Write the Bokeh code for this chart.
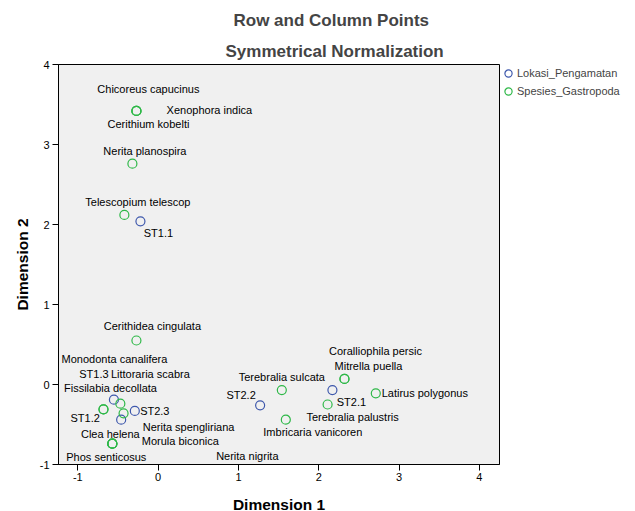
from bokeh.plotting import figure
from bokeh.models import (ColumnDataSource, Range1d, FixedTicker, Title, Legend, LegendItem,
                          CustomJSTickFormatter)
from bokeh.core.properties import value
from bokeh.embed import file_html
from bokeh.resources import INLINE

# ---- data ----
lokasi_names = ["ST1.1", "ST1.2", "ST1.3", "ST2.1", "ST2.2", "ST2.3"]
lokasi_dim1 = [-0.22, -0.46, -0.55, 2.17, 1.27, -0.29]
lokasi_dim2 = [2.04, -0.44, -0.19, -0.07, -0.26, -0.33]

spesies_names = ["Chicoreus capucinus", "Xenophora indica", "Cerithium kobelti",
                 "Nerita planospira", "Telescopium telescop", "Cerithidea cingulata",
                 "Monodonta canalifera", "Littoraria scabra", "Fissilabia decollata",
                 "Nerita spengliriana", "Clea helena", "Morula biconica",
                 "Phos senticosus", "Nerita nigrita", "Terebralia sulcata",
                 "Imbricaria vanicoren", "Coralliophila persic", "Mitrella puella",
                 "Terebralia palustris", "Latirus polygonus"]
spesies_dim1 = [-0.27, -0.27, -0.27, -0.32, -0.42, -0.27, -0.68, -0.47, -0.68, -0.43,
                -0.57, -0.57, -0.57, -0.57, 1.54, 1.59, 2.32, 2.32, 2.11, 2.71]
spesies_dim2 = [3.42, 3.42, 3.42, 2.76, 2.12, 0.55, -0.31, -0.24, -0.31, -0.36,
                -0.74, -0.74, -0.74, -0.74, -0.07, -0.44, 0.07, 0.07, -0.25, -0.11]

x_ticks = [-1, 0, 1, 2, 3, 4]
y_ticks = [-1, 0, 1, 2, 3, 4]

# label placement offsets (screen pixels, style only)
lokasi_dx = [18, -36, -20, 19, -19, 20]
lokasi_dy = [12, -2, -26, 12, -10, 0]
spesies_dx = [12, 73, 12, 12.5, 13.5, 16, 11, 30, 7, 65, -2, 68, -6, 135, 0, 27, 31, 24, 25, 49]
spesies_dy = [-22, -1, 13, -12.5, -12.5, -15, -50, -30, -21, 14, -10, -3, 13, 12, -13, 12, -28, -13, 12, 0]

BLUE = "#3E58AC"
GREEN = "#2EB848"
FONT = "Liberation Sans"

p = figure(frame_width=441, frame_height=400, output_backend="svg", toolbar_location=None,
           x_range=Range1d(-1.24, 4.25), y_range=Range1d(-1.0, 4.0),
           min_border_left=58, min_border_right=136, min_border_top=64,
           min_border_bottom=47)
p.title = None
p.background_fill_color = "#f0f0f0"
p.border_fill_color = "white"
p.outline_line_color = "black"
p.outline_line_width = 1
p.grid.visible = False

fmt = CustomJSTickFormatter(code="return tick.toString();")
for ax in (p.xaxis[0], p.yaxis[0]):
    ax.axis_line_color = "black"
    ax.major_tick_in = 0
    ax.major_tick_out = 6
    ax.major_tick_line_color = "black"
    ax.minor_tick_line_color = None
    ax.major_label_text_font = FONT
    ax.major_label_text_font_size = "11px"
    ax.major_label_text_color = "black"
    ax.axis_label_text_font = FONT
    ax.axis_label_text_font_size = "15.5px"
    ax.axis_label_text_font_style = "bold"
    ax.axis_label_text_color = "black"
    ax.formatter = fmt
p.xaxis.ticker = FixedTicker(ticks=x_ticks)
p.yaxis.ticker = FixedTicker(ticks=y_ticks)
p.xaxis.axis_label = "Dimension 1"
p.yaxis.axis_label = "Dimension 2"
p.xaxis.major_label_standoff = 2
p.xaxis.axis_label_standoff = 12
p.yaxis.major_label_standoff = 3
p.yaxis.axis_label_standoff = 6

src_l = ColumnDataSource(dict(x=lokasi_dim1, y=lokasi_dim2, t=lokasi_names,
                              dx=lokasi_dx, dy=lokasi_dy))
src_s = ColumnDataSource(dict(x=spesies_dim1, y=spesies_dim2, t=spesies_names,
                              dx=spesies_dx, dy=spesies_dy))

r_l = p.scatter("x", "y", source=src_l, marker="circle", size=9,
                fill_color=None, line_color=BLUE, line_width=1.2)
r_s = p.scatter("x", "y", source=src_s, marker="circle", size=9,
                fill_color=None, line_color=GREEN, line_width=1.2)

for src in (src_l, src_s):
    p.text("x", "y", text="t", source=src, x_offset="dx", y_offset="dy",
           text_align="center", text_baseline="middle",
           text_font=value(FONT), text_font_size="11px", text_color="black")

legend = Legend(items=[LegendItem(label="Lokasi_Pengamatan", renderers=[r_l]),
                       LegendItem(label="Spesies_Gastropoda", renderers=[r_s])],
                location="top_left", border_line_alpha=0, background_fill_alpha=0,
                label_text_font=FONT, label_text_font_size="11px",
                glyph_width=18, glyph_height=18, label_standoff=-5,
                spacing=-2, padding=0, margin=0, label_height=12)
p.add_layout(legend, "right")

t2 = Title(text="Symmetrical Normalization", text_font=FONT, text_font_size="17px",
           text_font_style="bold", align="left", offset=167, standoff=8)
t1 = Title(text="Row and Column Points", text_font=FONT, text_font_size="17px",
           text_font_style="bold", align="left", offset=175, standoff=12)
p.add_layout(t2, "above")
p.add_layout(t1, "above")

open("out.html", "w").write(file_html(p, INLINE))
